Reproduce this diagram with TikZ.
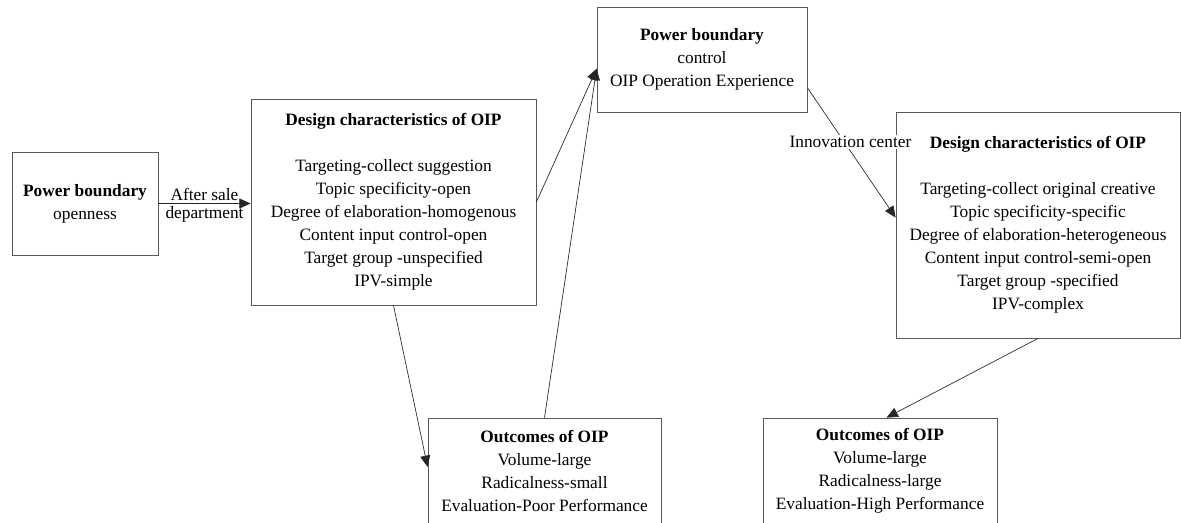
\documentclass[tikz,border=0pt]{standalone}
\usepackage{fontspec}
\setmainfont{Liberation Serif}
\usetikzlibrary{arrows.meta}
\definecolor{boxgray}{gray}{0.35}

\begin{document}
\begin{tikzpicture}[x=0.75pt,y=-0.75pt,
    box/.style={draw=boxgray, line width=0.6pt, align=center,
                font=\fontsize{13}{17.25}\selectfont},
    arr/.style={draw=black!85, line width=0.5pt, -{Triangle[length=8.5pt,width=7.5pt]}}]
  \useasboundingbox (0,0) rectangle (1181,522);

  \node[box, minimum width=109.5pt, minimum height=77.25pt] (pbopen) at (85,203.5)
    {\textbf{Power boundary}\\openness};
  \node[box, minimum width=213.75pt, minimum height=154.5pt] (designA) at (393.5,202)
    {\textbf{Design characteristics of OIP}\\[17.25pt]
     Targeting-collect suggestion\\
     Topic specificity-open\\
     Degree of elaboration-homogenous\\
     Content input control-open\\
     Target group -unspecified\\
     IPV-simple};
  \node[box, minimum width=157.5pt, minimum height=78.75pt] (pbctrl) at (702,59.5)
    {\textbf{Power boundary}\\control\\OIP Operation Experience};
  \node[box, minimum width=213pt, minimum height=169.5pt] (designB) at (1038,225)
    {\textbf{Design characteristics of OIP}\\[17.25pt]
     Targeting-collect original creative\\
     Topic specificity-specific\\
     Degree of elaboration-heterogeneous\\
     Content input control-semi-open\\
     Target group -specified\\
     IPV-complex};
  \node[box, minimum width=174.75pt, minimum height=79.5pt] (outA) at (544.5,471)
    {\textbf{Outcomes of OIP}\\Volume-large\\Radicalness-small\\Evaluation-Poor Performance};
  \node[box, minimum width=175.5pt, minimum height=79.5pt] (outB) at (880,471)
    {\textbf{Outcomes of OIP}\\Volume-large\\Radicalness-large\\Evaluation-High Performance};

  % connectors
  \draw[arr] (pbopen.east) -- node[midway, align=center, yshift=-1.5pt,
      font=\fontsize{13}{13.5}\selectfont] {After sale\\department} (pbopen.east -| designA.west);
  \draw[arr] (designA.east) -- (pbctrl.185);
  \draw[arr] (designA.south) -- (outA.178);
  \draw[arr] (outA.north) -- (pbctrl.185);
  \draw[arr] (pbctrl.-15) -- node[pos=0.42, xshift=4.5pt, fill=white, inner sep=1pt,
      font=\fontsize{13}{17.25}\selectfont] {Innovation center} (designB.177);
  \draw[arr] (designB.south) -- (outB.83);
\end{tikzpicture}
\end{document}
